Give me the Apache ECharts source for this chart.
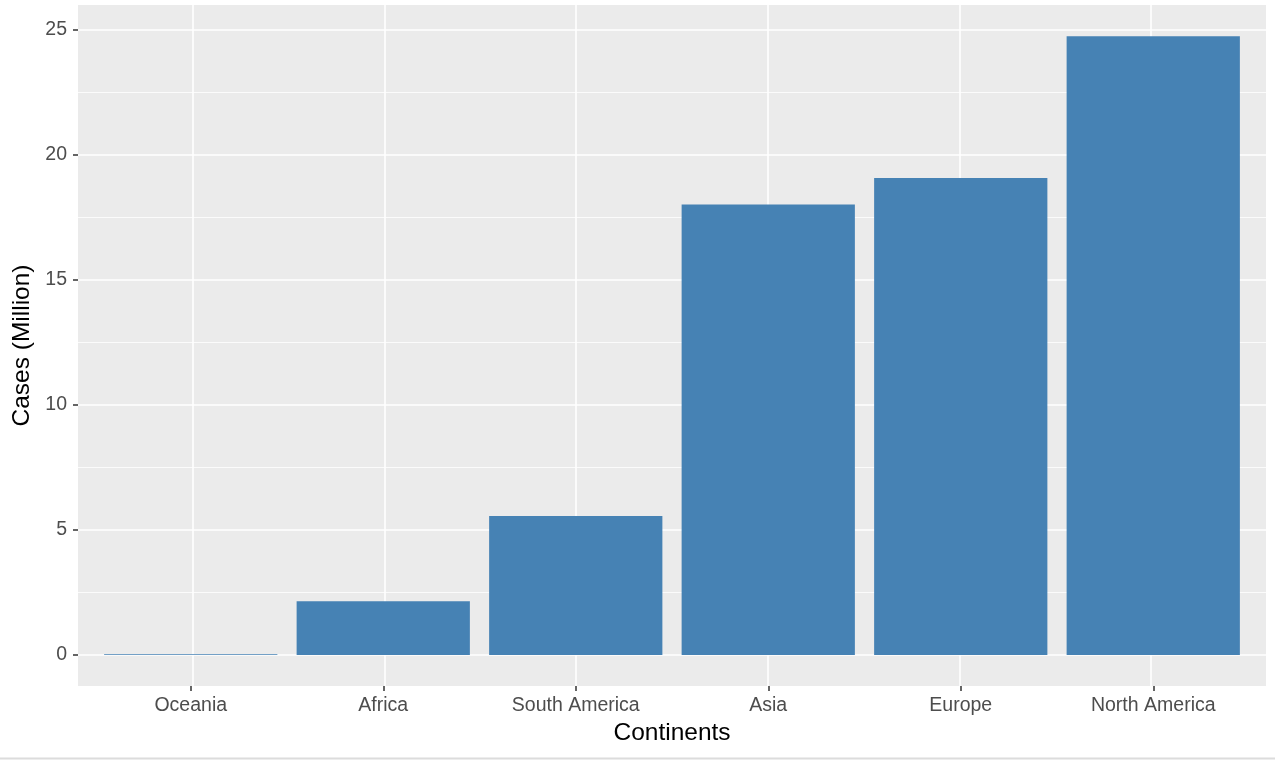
<!DOCTYPE html>
<html>
<head>
<meta charset="utf-8">
<script src="https://cdn.jsdelivr.net/npm/echarts@6/dist/echarts.min.js"></script>
<style>
html,body{margin:0;padding:0;background:#fff;}
#main{width:1280px;height:762px;}
</style>
</head>
<body>
<div id="main"></div>
<script>
// data (cases, millions)
const continents = ['Oceania', 'Africa', 'South America', 'Asia', 'Europe', 'North America'];
const cases = [0.03, 2.15, 5.55, 18.0, 19.06, 24.72];
const yTicks = [0, 5, 10, 15, 20, 25];

// panel extent like ggplot (5% expansion)
const yMin = -1.24;
const yMax = 25.97;

const font = '"Liberation Sans", Arial, Helvetica, sans-serif';
const chart = echarts.init(document.getElementById('main'));

const panel = {left: 78, top: 5, width: 1188, height: 681};
const band = panel.width / (continents.length + 1.2);
const pad = band * 0.6 - band / 2;

chart.setOption({
  animation: false,
  textStyle: {fontFamily: font},
  grid: [
    Object.assign({show: true, backgroundColor: '#EBEBEB', borderWidth: 0}, panel),
    {left: panel.left + pad, top: panel.top, width: panel.width - 2 * pad, height: panel.height}
  ],
  xAxis: [
    {
      // vertical grid lines at category centres
      gridIndex: 0, type: 'value', min: 0.4, max: continents.length + 0.6,
      axisLine: {show: false, onZero: false}, axisTick: {show: false}, axisLabel: {show: false},
      splitLine: {show: true, showMinLine: false, showMaxLine: false, lineStyle: {color: '#ffffff', width: 1.6}}
    },
    {
      gridIndex: 1, type: 'category', data: continents, position: 'bottom',
      axisLine: {show: false, onZero: false},
      axisTick: {show: true, alignWithLabel: true, length: 5, lineStyle: {color: '#333333', width: 1.5}},
      axisLabel: {color: '#4D4D4D', fontSize: 19.5, margin: 10, fontFamily: font},
      splitLine: {show: false},
      name: 'Continents', nameLocation: 'middle', nameGap: 35,
      nameTextStyle: {color: '#000000', fontSize: 24.5, fontFamily: font}
    }
  ],
  yAxis: [
    {
      gridIndex: 0, type: 'value', min: yMin, max: yMax,
      axisLine: {show: false, onZero: false},
      axisTick: {show: true, length: 5, customValues: yTicks, lineStyle: {color: '#333333', width: 1.5}},
      axisLabel: {color: '#4D4D4D', fontSize: 19.5, margin: 11, customValues: yTicks, fontFamily: font},
      splitLine: {show: true, lineStyle: {color: '#ffffff', width: 1.6}},
      name: 'Cases (Million)', nameLocation: 'middle', nameGap: 42, nameRotate: 90,
      nameTextStyle: {color: '#000000', fontSize: 24.5, fontFamily: font}
    },
    {
      // minor grid lines, shifted by half a break
      gridIndex: 0, type: 'value', min: yMin - 2.5, max: yMax - 2.5, position: 'left',
      axisLine: {show: false, onZero: false}, axisTick: {show: false}, axisLabel: {show: false},
      splitLine: {show: true, showMinLine: false, showMaxLine: false, lineStyle: {color: '#ffffff', width: 0.8}}
    },
    {
      gridIndex: 1, type: 'value', min: yMin, max: yMax,
      axisLine: {show: false, onZero: false}, axisTick: {show: false}, axisLabel: {show: false},
      splitLine: {show: false}
    }
  ],
  series: [{
    type: 'bar',
    xAxisIndex: 1,
    yAxisIndex: 2,
    data: cases,
    barWidth: '90%',
    itemStyle: {color: '#4682B4'}
  }],
  graphic: [{
    type: 'line',
    shape: {x1: 0, y1: 758.5, x2: 1275, y2: 758.5},
    style: {stroke: '#DCDCDC', lineWidth: 2}
  }]
});
</script>
</body>
</html>
